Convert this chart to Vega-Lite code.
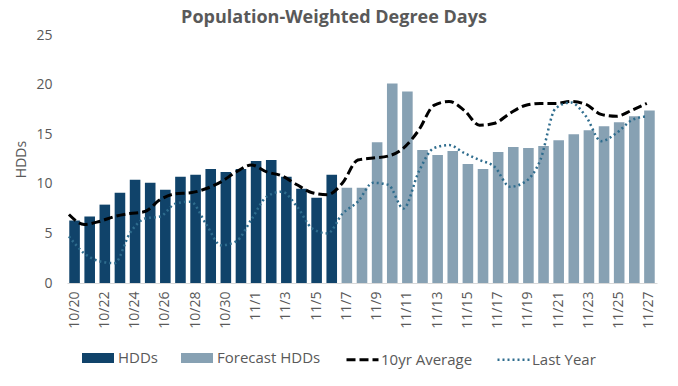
{
  "$schema": "https://vega.github.io/schema/vega-lite/v6.json",
  "width": 590,
  "height": 248,
  "autosize": {"type": "none"},
  "padding": {"left": 67, "top": 35, "right": 21, "bottom": 103},
  "background": "white",
  "config": {
    "font": "Open Sans",
    "view": {"stroke": null},
    "axis": {"labelColor": "#595959", "titleColor": "#595959", "labelFontSize": 14, "titleFontSize": 14, "titleFontWeight": "normal", "grid": false, "ticks": false},
    "legend": {"labelColor": "#595959", "labelFontSize": 15}
  },
  "title": {"text": "Population-Weighted Degree Days", "fontSize": 18, "fontWeight": "bold", "color": "#595959", "anchor": "middle", "dx": -28, "offset": 1},
  "datasets": {
    "bars": [
      {"date": "10/20", "hdd": 6.3, "type": "HDDs"},
      {"date": "10/21", "hdd": 6.7, "type": "HDDs"},
      {"date": "10/22", "hdd": 7.9, "type": "HDDs"},
      {"date": "10/23", "hdd": 9.1, "type": "HDDs"},
      {"date": "10/24", "hdd": 10.4, "type": "HDDs"},
      {"date": "10/25", "hdd": 10.1, "type": "HDDs"},
      {"date": "10/26", "hdd": 9.4, "type": "HDDs"},
      {"date": "10/27", "hdd": 10.7, "type": "HDDs"},
      {"date": "10/28", "hdd": 10.9, "type": "HDDs"},
      {"date": "10/29", "hdd": 11.5, "type": "HDDs"},
      {"date": "10/30", "hdd": 11.2, "type": "HDDs"},
      {"date": "10/31", "hdd": 11.5, "type": "HDDs"},
      {"date": "11/1", "hdd": 12.3, "type": "HDDs"},
      {"date": "11/2", "hdd": 12.4, "type": "HDDs"},
      {"date": "11/3", "hdd": 10.7, "type": "HDDs"},
      {"date": "11/4", "hdd": 9.5, "type": "HDDs"},
      {"date": "11/5", "hdd": 8.6, "type": "HDDs"},
      {"date": "11/6", "hdd": 10.9, "type": "HDDs"},
      {"date": "11/7", "hdd": 9.6, "type": "Forecast HDDs"},
      {"date": "11/8", "hdd": 9.6, "type": "Forecast HDDs"},
      {"date": "11/9", "hdd": 14.2, "type": "Forecast HDDs"},
      {"date": "11/10", "hdd": 20.1, "type": "Forecast HDDs"},
      {"date": "11/11", "hdd": 19.3, "type": "Forecast HDDs"},
      {"date": "11/12", "hdd": 13.4, "type": "Forecast HDDs"},
      {"date": "11/13", "hdd": 12.9, "type": "Forecast HDDs"},
      {"date": "11/14", "hdd": 13.3, "type": "Forecast HDDs"},
      {"date": "11/15", "hdd": 12.0, "type": "Forecast HDDs"},
      {"date": "11/16", "hdd": 11.5, "type": "Forecast HDDs"},
      {"date": "11/17", "hdd": 13.2, "type": "Forecast HDDs"},
      {"date": "11/18", "hdd": 13.7, "type": "Forecast HDDs"},
      {"date": "11/19", "hdd": 13.6, "type": "Forecast HDDs"},
      {"date": "11/20", "hdd": 13.8, "type": "Forecast HDDs"},
      {"date": "11/21", "hdd": 14.4, "type": "Forecast HDDs"},
      {"date": "11/22", "hdd": 15.0, "type": "Forecast HDDs"},
      {"date": "11/23", "hdd": 15.4, "type": "Forecast HDDs"},
      {"date": "11/24", "hdd": 15.8, "type": "Forecast HDDs"},
      {"date": "11/25", "hdd": 16.2, "type": "Forecast HDDs"},
      {"date": "11/26", "hdd": 16.8, "type": "Forecast HDDs"},
      {"date": "11/27", "hdd": 17.4, "type": "Forecast HDDs"}
    ],
    "lines": [
      {"date": "10/20", "v": 6.9, "series": "10yr Average"},
      {"date": "10/21", "v": 5.9, "series": "10yr Average"},
      {"date": "10/22", "v": 6.2, "series": "10yr Average"},
      {"date": "10/23", "v": 6.7, "series": "10yr Average"},
      {"date": "10/24", "v": 7.0, "series": "10yr Average"},
      {"date": "10/25", "v": 7.2, "series": "10yr Average"},
      {"date": "10/26", "v": 8.4, "series": "10yr Average"},
      {"date": "10/27", "v": 9.0, "series": "10yr Average"},
      {"date": "10/28", "v": 9.1, "series": "10yr Average"},
      {"date": "10/29", "v": 9.5, "series": "10yr Average"},
      {"date": "10/30", "v": 10.2, "series": "10yr Average"},
      {"date": "10/31", "v": 11.2, "series": "10yr Average"},
      {"date": "11/1", "v": 11.9, "series": "10yr Average"},
      {"date": "11/2", "v": 11.2, "series": "10yr Average"},
      {"date": "11/3", "v": 10.8, "series": "10yr Average"},
      {"date": "11/4", "v": 9.9, "series": "10yr Average"},
      {"date": "11/5", "v": 9.1, "series": "10yr Average"},
      {"date": "11/6", "v": 8.9, "series": "10yr Average"},
      {"date": "11/7", "v": 10.1, "series": "10yr Average"},
      {"date": "11/8", "v": 12.4, "series": "10yr Average"},
      {"date": "11/9", "v": 12.6, "series": "10yr Average"},
      {"date": "11/10", "v": 12.8, "series": "10yr Average"},
      {"date": "11/11", "v": 13.6, "series": "10yr Average"},
      {"date": "11/12", "v": 15.4, "series": "10yr Average"},
      {"date": "11/13", "v": 17.9, "series": "10yr Average"},
      {"date": "11/14", "v": 18.3, "series": "10yr Average"},
      {"date": "11/15", "v": 17.4, "series": "10yr Average"},
      {"date": "11/16", "v": 15.9, "series": "10yr Average"},
      {"date": "11/17", "v": 16.1, "series": "10yr Average"},
      {"date": "11/18", "v": 17.1, "series": "10yr Average"},
      {"date": "11/19", "v": 17.9, "series": "10yr Average"},
      {"date": "11/20", "v": 18.1, "series": "10yr Average"},
      {"date": "11/21", "v": 18.1, "series": "10yr Average"},
      {"date": "11/22", "v": 18.3, "series": "10yr Average"},
      {"date": "11/23", "v": 18.0, "series": "10yr Average"},
      {"date": "11/24", "v": 17.0, "series": "10yr Average"},
      {"date": "11/25", "v": 16.8, "series": "10yr Average"},
      {"date": "11/26", "v": 17.4, "series": "10yr Average"},
      {"date": "11/27", "v": 18.1, "series": "10yr Average"},
      {"date": "10/20", "v": 4.7, "series": "Last Year"},
      {"date": "10/21", "v": 3.0, "series": "Last Year"},
      {"date": "10/22", "v": 2.2, "series": "Last Year"},
      {"date": "10/23", "v": 2.0, "series": "Last Year"},
      {"date": "10/24", "v": 5.0, "series": "Last Year"},
      {"date": "10/25", "v": 6.5, "series": "Last Year"},
      {"date": "10/26", "v": 6.7, "series": "Last Year"},
      {"date": "10/27", "v": 8.0, "series": "Last Year"},
      {"date": "10/28", "v": 8.2, "series": "Last Year"},
      {"date": "10/29", "v": 6.0, "series": "Last Year"},
      {"date": "10/30", "v": 3.8, "series": "Last Year"},
      {"date": "10/31", "v": 4.2, "series": "Last Year"},
      {"date": "11/1", "v": 6.4, "series": "Last Year"},
      {"date": "11/2", "v": 8.7, "series": "Last Year"},
      {"date": "11/3", "v": 9.2, "series": "Last Year"},
      {"date": "11/4", "v": 7.7, "series": "Last Year"},
      {"date": "11/5", "v": 5.5, "series": "Last Year"},
      {"date": "11/6", "v": 5.0, "series": "Last Year"},
      {"date": "11/7", "v": 7.0, "series": "Last Year"},
      {"date": "11/8", "v": 8.2, "series": "Last Year"},
      {"date": "11/9", "v": 10.1, "series": "Last Year"},
      {"date": "11/10", "v": 9.9, "series": "Last Year"},
      {"date": "11/11", "v": 7.5, "series": "Last Year"},
      {"date": "11/12", "v": 11.2, "series": "Last Year"},
      {"date": "11/13", "v": 13.6, "series": "Last Year"},
      {"date": "11/14", "v": 13.9, "series": "Last Year"},
      {"date": "11/15", "v": 13.1, "series": "Last Year"},
      {"date": "11/16", "v": 12.4, "series": "Last Year"},
      {"date": "11/17", "v": 11.7, "series": "Last Year"},
      {"date": "11/18", "v": 9.7, "series": "Last Year"},
      {"date": "11/19", "v": 10.2, "series": "Last Year"},
      {"date": "11/20", "v": 12.4, "series": "Last Year"},
      {"date": "11/21", "v": 17.6, "series": "Last Year"},
      {"date": "11/22", "v": 18.2, "series": "Last Year"},
      {"date": "11/23", "v": 16.8, "series": "Last Year"},
      {"date": "11/24", "v": 14.3, "series": "Last Year"},
      {"date": "11/25", "v": 15.1, "series": "Last Year"},
      {"date": "11/26", "v": 16.4, "series": "Last Year"},
      {"date": "11/27", "v": 16.8, "series": "Last Year"}
    ]
  },
  "layer": [
    {
      "data": {"name": "bars"},
      "mark": {"type": "bar"},
      "encoding": {
        "x": {
          "field": "date", "type": "ordinal", "sort": null,
          "scale": {"paddingInner": 0.3, "paddingOuter": 0.15},
          "axis": {
            "title": null, "labelAngle": -90, "labelPadding": 8,
            "values": ["10/20","10/22","10/24","10/26","10/28","10/30","11/1","11/3","11/5","11/7","11/9","11/11","11/13","11/15","11/17","11/19","11/21","11/23","11/25","11/27"],
            "domainColor": "#D9D9D9", "domainWidth": 1
          }
        },
        "y": {
          "field": "hdd", "type": "quantitative",
          "scale": {"domain": [0, 25], "nice": false},
          "axis": {"title": "HDDs", "values": [0, 5, 10, 15, 20, 25], "domain": false, "labelPadding": 15, "titlePadding": 7}
        },
        "fill": {
          "field": "type", "type": "nominal",
          "scale": {"domain": ["HDDs", "Forecast HDDs"], "range": ["#10436A", "#87A1B3"]},
          "legend": {
            "title": null, "orient": "none", "direction": "horizontal",
            "legendX": 15, "legendY": 307,
            "symbolType": "M-1,-0.3125H1V0.3125H-1Z", "symbolSize": 1024,
            "symbolStrokeWidth": 0, "labelOffset": 4, "columnPadding": 23
          }
        }
      }
    },
    {
      "data": {"name": "lines"},
      "mark": {"type": "line", "interpolate": "monotone"},
      "encoding": {
        "x": {
          "field": "date", "type": "ordinal", "sort": null,
          "scale": {"type": "point", "padding": 0.4, "align": 0.16},
          "axis": null
        },
        "y": {"field": "v", "type": "quantitative"},
        "stroke": {
          "field": "series", "type": "nominal",
          "scale": {"domain": ["10yr Average", "Last Year"], "range": ["#000000", "#2F6D8E"]},
          "legend": {
            "title": null, "orient": "none", "direction": "horizontal",
            "legendX": 278, "legendY": 307,
            "symbolType": "stroke", "symbolSize": 1024,
            "labelOffset": 1, "columnPadding": 19
          }
        },
        "strokeDash": {
          "field": "series", "type": "nominal",
          "scale": {"domain": ["10yr Average", "Last Year"], "range": [[9, 4], [2, 3]]}
        },
        "strokeWidth": {
          "field": "series", "type": "nominal",
          "scale": {"domain": ["10yr Average", "Last Year"], "range": [3, 2.5]}
        }
      }
    }
  ],
  "resolve": {"scale": {"x": "independent"}}
}
